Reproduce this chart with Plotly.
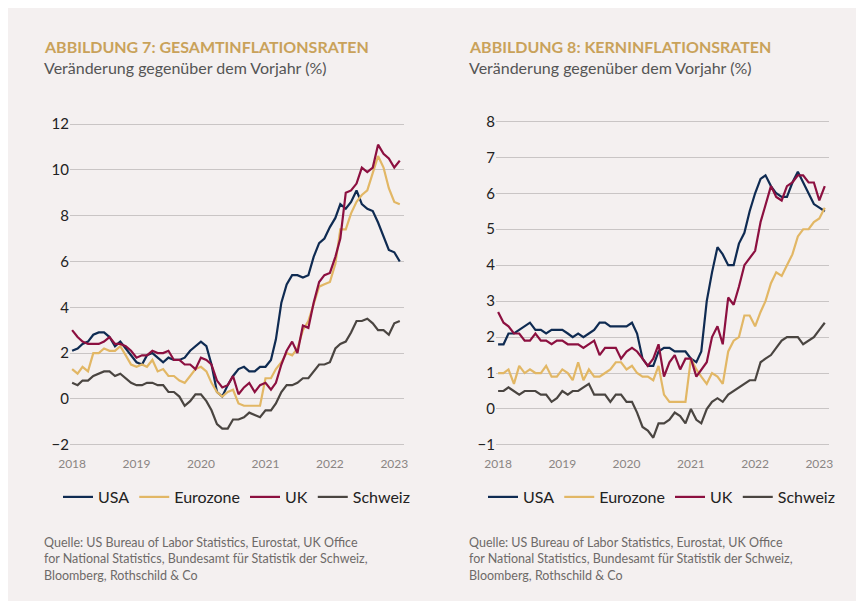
import pandas as pd
import plotly.graph_objects as go

months = pd.date_range("2018-01-01", "2023-02-01", freq="MS")

# Abbildung 7: Gesamtinflation
usa_head = [2.1,2.2,2.4,2.5,2.8,2.9,2.9,2.7,2.3,2.5,2.2,1.9,
            1.6,1.5,1.9,2.0,1.8,1.6,1.8,1.7,1.7,1.8,2.1,2.3,
            2.5,2.3,1.5,0.3,0.1,0.6,1.0,1.3,1.4,1.2,1.2,1.4,
            1.4,1.7,2.6,4.2,5.0,5.4,5.4,5.3,5.4,6.2,6.8,7.0,
            7.5,7.9,8.5,8.3,8.6,9.1,8.5,8.3,8.2,7.7,7.1,6.5,
            6.4,6.0]
euro_head = [1.3,1.1,1.4,1.2,2.0,2.0,2.2,2.1,2.1,2.3,1.9,1.5,
             1.4,1.5,1.4,1.7,1.2,1.3,1.0,1.0,0.8,0.7,1.0,1.3,
             1.4,1.2,0.7,0.3,0.1,0.3,0.4,-0.2,-0.3,-0.3,-0.3,-0.3,
             0.9,0.9,1.3,1.6,2.0,1.9,2.2,3.0,3.4,4.1,4.9,5.0,
             5.1,5.9,7.4,7.4,8.1,8.6,8.9,9.1,9.9,10.6,10.1,9.2,
             8.6,8.5]
uk_head = [3.0,2.7,2.5,2.4,2.4,2.4,2.5,2.7,2.4,2.4,2.3,2.1,
           1.8,1.9,1.9,2.1,2.0,2.0,2.1,1.7,1.7,1.5,1.5,1.3,
           1.8,1.7,1.5,0.8,0.5,0.6,1.0,0.2,0.5,0.7,0.3,0.6,
           0.7,0.4,0.7,1.5,2.1,2.5,2.0,3.2,3.1,4.2,5.1,5.4,
           5.5,6.2,7.0,9.0,9.1,9.4,10.1,9.9,10.1,11.1,10.7,10.5,
           10.1,10.4]
ch_head = [0.7,0.6,0.8,0.8,1.0,1.1,1.2,1.2,1.0,1.1,0.9,0.7,
           0.6,0.6,0.7,0.7,0.6,0.6,0.3,0.3,0.1,-0.3,-0.1,0.2,
           0.2,-0.1,-0.5,-1.1,-1.3,-1.3,-0.9,-0.9,-0.8,-0.6,-0.7,-0.8,
           -0.5,-0.5,-0.2,0.3,0.6,0.6,0.7,0.9,0.9,1.2,1.5,1.5,
           1.6,2.2,2.4,2.5,2.9,3.4,3.4,3.5,3.3,3.0,3.0,2.8,
           3.3,3.4]

# Abbildung 8: Kerninflation
usa_core = [1.8,1.8,2.1,2.1,2.2,2.3,2.4,2.2,2.2,2.1,2.2,2.2,
            2.2,2.1,2.0,2.1,2.0,2.1,2.2,2.4,2.4,2.3,2.3,2.3,
            2.3,2.4,2.1,1.4,1.2,1.2,1.6,1.7,1.7,1.6,1.6,1.6,
            1.4,1.3,1.6,3.0,3.8,4.5,4.3,4.0,4.0,4.6,4.9,5.5,
            6.0,6.4,6.5,6.2,6.0,5.9,5.9,6.3,6.6,6.3,6.0,5.7,
            5.6,5.5]
euro_core = [1.0,1.0,1.1,0.7,1.2,1.0,1.1,1.0,1.0,1.2,0.9,0.9,
             1.1,1.0,0.8,1.3,0.8,1.1,0.9,0.9,1.0,1.1,1.3,1.3,
             1.1,1.2,1.0,0.9,0.9,0.8,1.2,0.4,0.2,0.2,0.2,0.2,
             1.4,1.1,0.9,0.7,1.0,0.9,0.7,1.6,1.9,2.0,2.6,2.6,
             2.3,2.7,3.0,3.5,3.8,3.7,4.0,4.3,4.8,5.0,5.0,5.2,
             5.3,5.6]
uk_core = [2.7,2.4,2.3,2.1,2.1,1.9,1.9,2.1,1.9,1.9,1.8,1.9,
           1.9,1.8,1.8,1.8,1.7,1.8,1.9,1.5,1.7,1.7,1.7,1.4,
           1.6,1.7,1.6,1.4,1.2,1.4,1.8,0.9,1.3,1.5,1.1,1.4,
           1.4,0.9,1.1,1.3,2.0,2.3,1.8,3.1,2.9,3.4,4.0,4.2,
           4.4,5.2,5.7,6.2,5.9,5.8,6.2,6.3,6.5,6.5,6.3,6.3,
           5.8,6.2]
ch_core = [0.5,0.5,0.6,0.5,0.4,0.5,0.5,0.5,0.4,0.4,0.2,0.3,
           0.5,0.4,0.5,0.5,0.6,0.7,0.4,0.4,0.4,0.2,0.4,0.4,
           0.2,0.2,-0.1,-0.5,-0.6,-0.8,-0.4,-0.4,-0.3,-0.1,-0.2,-0.4,
           0.0,-0.3,-0.4,0.0,0.2,0.3,0.2,0.4,0.5,0.6,0.7,0.8,
           0.8,1.3,1.4,1.5,1.7,1.9,2.0,2.0,2.0,1.8,1.9,2.0,
           2.2,2.4]

names = ["USA", "Eurozone", "UK", "Schweiz"]
colors = ["#0f2b52", "#e2b765", "#8c1040", "#4a4541"]
bg = "#f4f0f0"
gold = "#c9a25a"
font = "Lato"

fig = go.Figure()
for i, (name, vals) in enumerate(zip(names, [usa_head, euro_head, uk_head, ch_head])):
    fig.add_trace(go.Scatter(x=months, y=vals, name=name, mode="lines",
                             line=dict(color=colors[i], width=2.2),
                             xaxis="x", yaxis="y", legend="legend"))
for i, (name, vals) in enumerate(zip(names, [usa_core, euro_core, uk_core, ch_core])):
    fig.add_trace(go.Scatter(x=months, y=vals, name=name, mode="lines",
                             line=dict(color=colors[i], width=2.2),
                             xaxis="x2", yaxis="y2", legend="legend2"))

xcommon = dict(type="date", range=["2017-12-20", "2023-02-25"], dtick="M12",
               tick0="2018-01-01", tickformat="%Y", showgrid=False, zeroline=False,
               ticks="", automargin=False,
               tickfont=dict(size=12, color="#8a8583", family=font))
ycommon = dict(showgrid=True, gridcolor="#c9c5c5", gridwidth=1, zeroline=False,
               ticks="", automargin=False,
               tickfont=dict(size=15, color="#222", family=font))
ydom = [1 - 447/601, 1 - 108/601]

fig.update_layout(
    width=864, height=601, paper_bgcolor=bg, plot_bgcolor=bg,
    margin=dict(l=0, r=0, t=0, b=0, autoexpand=False), font=dict(family=font),
    xaxis=dict(domain=[62/864, 396/864], anchor="y", **xcommon),
    yaxis=dict(domain=ydom, anchor="x", range=[-2.45, 12.35], dtick=2, **ycommon),
    xaxis2=dict(domain=[488/864, 821/864], anchor="y2", **xcommon),
    yaxis2=dict(domain=ydom, anchor="x2", range=[-1.28, 8.15], dtick=1, **ycommon),
    legend=dict(orientation="h", x=50/864, y=1 - 472/601, xanchor="left", yanchor="top",
                bgcolor="rgba(0,0,0,0)", font=dict(size=16, color="#222", family=font),
                itemwidth=30),
    legend2=dict(orientation="h", x=475/864, y=1 - 472/601, xanchor="left", yanchor="top",
                 bgcolor="rgba(0,0,0,0)", font=dict(size=16, color="#222", family=font),
                 itemwidth=30),
)

src = ("Quelle: US Bureau of Labor Statistics, Eurostat, UK Office<br>"
       "for National Statistics, Bundesamt für Statistik der Schweiz,<br>"
       "Bloomberg, Rothschild & Co")
for x0, title in [(34, "ABBILDUNG 7: GESAMTINFLATIONSRATEN"), (459, "ABBILDUNG 8: KERNINFLATIONSRATEN")]:
    fig.add_annotation(x=x0/864, y=1 - 27/601, xref="paper", yref="paper", xanchor="left", yanchor="top",
                       text="<b>" + title + "</b>", showarrow=False,
                       font=dict(size=16, color=gold, family=font))
    fig.add_annotation(x=x0/864, y=1 - 48/601, xref="paper", yref="paper", xanchor="left", yanchor="top",
                       text="Veränderung gegenüber dem Vorjahr (%)", showarrow=False,
                       font=dict(size=16, color="#555", family=font))
    fig.add_annotation(x=x0/864, y=1 - 525/601, xref="paper", yref="paper", xanchor="left", yanchor="top",
                       text=src, showarrow=False, align="left",
                       font=dict(size=12.5, color="#6e6a68", family=font))

fig.write_html("out.html")
